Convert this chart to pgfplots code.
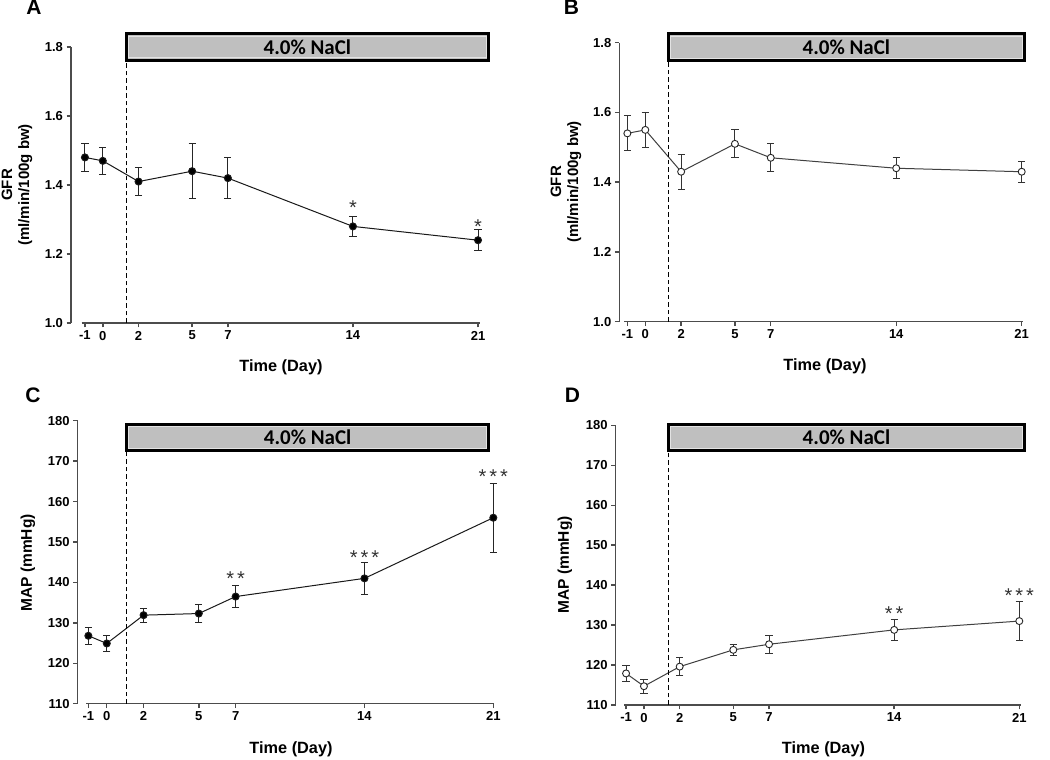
\documentclass[border=0pt]{standalone}
\usepackage{pgfplots}
\pgfplotsset{compat=1.18}
\usepackage{fontspec}
\setmainfont{Liberation Sans}
\newfontfamily\calfont{Carlito}

\pgfplotsset{
  panel/.style={
    scale only axis,
    anchor=south west,
    axis lines*=left,
    x axis line style={draw=none},
    y axis line style={line width=1.5pt, black!70},
    tick style={line width=1.4pt, black!70},
    major tick length=4.5pt,
    tick align=outside,
    xmax=21,
    xtick={-1,0,2,5,7,14,21},
    clip=false,
    ticklabel style={font=\bfseries\fontsize{13}{15}\selectfont},
    /pgf/number format/assume math mode=true,
  },
  gfr/.style={ymin=1, ymax=1.8, ytick={1,1.2,1.4,1.6,1.8},
    yticklabel style={/pgf/number format/fixed, /pgf/number format/fixed zerofill, /pgf/number format/precision=1}},
  map/.style={ymin=110, ymax=180, ytick={110,120,130,140,150,160,170,180}},
  filledser/.style={black!90, line width=1pt, mark=*, mark size=3.5pt, mark options={solid, fill=black},
    error bars/.cd, y dir=both, y explicit,
    error bar style={line width=1pt, black!85},
    error mark options={rotate=90, mark size=3.6pt, line width=1pt, black!85}},
  openser/.style={black!75, line width=1pt, mark=*, mark size=3.5pt, mark options={solid, fill=white, draw=black!85, line width=0.9pt},
    error bars/.cd, y dir=both, y explicit,
    error bar style={line width=1pt, black!80},
    error mark options={rotate=90, mark size=3.6pt, line width=1pt, black!80}},
}
\tikzset{
  naclbox/.style={line width=3pt, draw=black, fill=gray!50},
  naclinner/.style={line width=0.8pt, draw=gray!22},
  nacltext/.style={font=\calfont\bfseries\fontsize{21}{21}\selectfont},
  vdash/.style={line width=1.3pt, black, dash pattern=on 4.5pt off 3pt},
  xline/.style={line width=1.5pt, black!70},
  star/.style={anchor=base, yshift=-11.5pt, font=\fontsize{20}{20}\selectfont, text=black!80},
}
\newcommand{\twostar}{*\hspace{3pt}*}
\newcommand{\threestar}{*\hspace{3pt}*\hspace{3pt}*}

\begin{document}
\begin{tikzpicture}
\useasboundingbox[fill=white] (0,0) rectangle (1050pt,760pt);

% ---------------- Panel A ----------------
\begin{axis}[panel, gfr, at={(71pt,437pt)}, width=407pt, height=276pt, xmin=-1.78]
\addplot[filledser] coordinates {
 (-1,1.48) +- (0,0.04)
 (0,1.47) +- (0,0.04)
 (2,1.41) +- (0,0.04)
 (5,1.44) +- (0,0.08)
 (7,1.42) +- (0,0.06)
 (14,1.28) +- (0,0.03)
 (21,1.24) +- (0,0.03)
};
\draw[xline] (axis cs:-1.18,1) -- (axis cs:21.1,1);
\draw[vdash] (axis cs:1.32,1) -- (axis cs:1.32,1.762);
\draw[naclbox] (axis cs:1.32,1.762) rectangle (axis cs:21.6,1.838);
\draw[naclinner] ([shift={(2.3pt,2.3pt)}]axis cs:1.32,1.762) rectangle ([shift={(-2.3pt,-2.3pt)}]axis cs:21.6,1.838);
\node[nacltext] at (axis cs:11.45,1.8) {4.0\% NaCl};
\node[star] at (axis cs:14,1.349) {*};
\node[star] at (axis cs:21,1.294) {*};
\end{axis}

% ---------------- Panel B ----------------
\begin{axis}[panel, gfr, at={(619.3pt,438.3pt)}, width=402.4pt, height=279pt, xmin=-1.45]
\addplot[openser] coordinates {
 (-1,1.54) +- (0,0.05)
 (0,1.55) +- (0,0.05)
 (2,1.43) +- (0,0.05)
 (5,1.51) +- (0,0.04)
 (7,1.47) +- (0,0.04)
 (14,1.44) +- (0,0.03)
 (21,1.43) +- (0,0.03)
};
\draw[xline] (axis cs:-1.18,1) -- (axis cs:21.08,1);
\draw[vdash] (axis cs:1.29,1) -- (axis cs:1.29,1.749);
\draw[naclbox] (axis cs:1.29,1.749) rectangle (axis cs:21.16,1.8255);
\draw[naclinner] ([shift={(2.3pt,2.3pt)}]axis cs:1.29,1.749) rectangle ([shift={(-2.3pt,-2.3pt)}]axis cs:21.16,1.8255);
\node[nacltext] at (axis cs:11.22,1.787) {4.0\% NaCl};
\end{axis}

% ---------------- Panel C ----------------
\begin{axis}[panel, map, at={(77.7pt,56.3pt)}, width=415.6pt, height=283pt, xmin=-1.58]
\addplot[filledser] coordinates {
 (-1,126.8) +- (0,2.1)
 (0,124.9) +- (0,2.0)
 (2,131.9) +- (0,1.7)
 (5,132.3) +- (0,2.3)
 (7,136.5) +- (0,2.8)
 (14,141.0) +- (0,4.0)
 (21,156.0) +- (0,8.5)
};
\draw[xline] (axis cs:-1.12,110) -- (axis cs:21.05,110);
\draw[vdash] (axis cs:1.07,110) -- (axis cs:1.07,172.7);
\draw[naclbox] (axis cs:1.07,172.7) rectangle (axis cs:20.75,179.13);
\draw[naclinner] ([shift={(2.3pt,2.3pt)}]axis cs:1.07,172.7) rectangle ([shift={(-2.3pt,-2.3pt)}]axis cs:20.75,179.13);
\node[nacltext] at (axis cs:10.91,175.9) {4.0\% NaCl};
\node[star] at (axis cs:7,142.2) {\twostar};
\node[star] at (axis cs:14,147.2) {\threestar};
\node[star] at (axis cs:21,167.4) {\threestar};
\end{axis}

% ---------------- Panel D ----------------
\begin{axis}[panel, map, at={(615.7pt,55pt)}, width=403.6pt, height=279.7pt, xmin=-1.58]
\addplot[openser] coordinates {
 (-1,117.9) +- (0,1.9)
 (0,114.7) +- (0,1.8)
 (2,119.6) +- (0,2.2)
 (5,123.8) +- (0,1.3)
 (7,125.2) +- (0,2.2)
 (14,128.8) +- (0,2.6)
 (21,131.0) +- (0,4.9)
};
\draw[xline] (axis cs:-1.11,110) -- (axis cs:21.1,110);
\draw[vdash] (axis cs:1.37,110) -- (axis cs:1.37,173.7);
\draw[naclbox] (axis cs:1.37,173.7) rectangle (axis cs:21.3,180.28);
\draw[naclinner] ([shift={(2.3pt,2.3pt)}]axis cs:1.37,173.7) rectangle ([shift={(-2.3pt,-2.3pt)}]axis cs:21.3,180.28);
\node[nacltext] at (axis cs:11.33,177.0) {4.0\% NaCl};
\node[star] at (axis cs:14,133.9) {\twostar};
\node[star] at (axis cs:21,138.6) {\threestar};
\end{axis}

% ---------------- Labels ----------------
\node[font=\bfseries\fontsize{21}{21}\selectfont] at (34pt,752.5pt) {A};
\node[font=\bfseries\fontsize{21}{21}\selectfont] at (571.5pt,752.5pt) {B};
\node[font=\bfseries\fontsize{21}{21}\selectfont] at (33pt,365pt) {C};
\node[font=\bfseries\fontsize{21}{21}\selectfont] at (572.5pt,365pt) {D};

\node[font=\bfseries\fontsize{16.3}{18}\selectfont] at (281pt,393pt) {Time (Day)};
\node[font=\bfseries\fontsize{16.3}{18}\selectfont] at (825pt,394pt) {Time (Day)};
\node[font=\bfseries\fontsize{16.3}{18}\selectfont] at (291pt,11pt) {Time (Day)};
\node[font=\bfseries\fontsize{16.3}{18}\selectfont] at (823.5pt,11pt) {Time (Day)};

\node[rotate=90, align=center, font=\bfseries\fontsize{15}{17}\selectfont] at (17pt,575pt) {GFR\\(ml/min/100g bw)};
\node[rotate=90, align=center, font=\bfseries\fontsize{15}{17}\selectfont] at (566pt,578pt) {GFR\\(ml/min/100g bw)};
\node[rotate=90, font=\bfseries\fontsize{15.5}{17}\selectfont] at (28pt,197pt) {MAP (mmHg)};
\node[rotate=90, font=\bfseries\fontsize{15.5}{17}\selectfont] at (565pt,195pt) {MAP (mmHg)};
\end{tikzpicture}
\end{document}
